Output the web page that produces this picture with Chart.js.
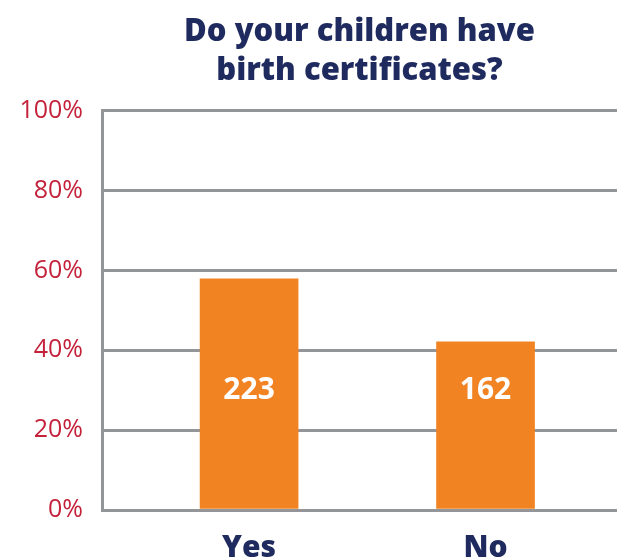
<!DOCTYPE html>
<html>
<head>
<meta charset="utf-8">
<script src="https://cdn.jsdelivr.net/npm/chart.js@4/dist/chart.umd.min.js"></script>
<style>
    html, body { margin: 0; padding: 0; background: #fff; overflow: hidden; }
    #wrap { width: 617px; height: 558px; }
</style>
</head>
<body>
<div id="wrap"><canvas id="chart"></canvas></div>
<script>
'use strict';

const CATEGORIES = ['Yes', 'No'];
const COUNTS = [223, 162];
const PERCENTS = [57.9, 42.1];
const Y_TICKS = [0, 20, 40, 60, 80, 100];

const NAVY = '#1f2b5e';
const RED = '#c4213b';
const ORANGE = '#f28322';
const GRID = '#939598';
const FONT = '"Open Sans", Inter, sans-serif';

// counts sit at a fixed height inside the bars, like the original
const LABEL_LEVEL = 30;

const countLabels = {
    id: 'countLabels',
    afterDatasetsDraw(chart) {
        let ctx = chart.ctx;
        let y = chart.scales.y.getPixelForValue(LABEL_LEVEL);
        ctx.save();
        ctx.fillStyle = '#fff';
        ctx.font = '700 30px ' + FONT;
        ctx.textAlign = 'center';
        ctx.textBaseline = 'middle';
        chart.getDatasetMeta(0).data.forEach((bar, i) => {
            ctx.fillText(String(COUNTS[i]), bar.x, y);
        });
        ctx.restore();
    }
};

new Chart(document.getElementById('chart'), {
    type: 'bar',
    data: {
        datasets: [{
            data: CATEGORIES.map((c, i) => ({ x: i + 1, y: PERCENTS[i] })),
            backgroundColor: ORANGE,
            barThickness: 98
        }]
    },
    options: {
        responsive: true,
        maintainAspectRatio: false,
        animation: false,
        layout: { padding: 0 },
        plugins: {
            legend: { display: false },
            tooltip: { enabled: false },
            title: {
                display: true,
                fullSize: false,
                text: ['Do your children have', 'birth certificates?'],
                color: NAVY,
                font: { family: FONT, size: 31, weight: '800', lineHeight: 1.27 },
                padding: { top: 12, bottom: 20 }
            }
        },
        scales: {
            x: {
                type: 'linear',
                offset: false,
                min: 0.378,
                max: 2.556,
                grid: { display: false, offset: false },
                border: { display: false },
                afterBuildTicks: scale => { scale.ticks = CATEGORIES.map((c, i) => ({ value: i + 1 })); },
                afterFit: scale => { scale.height = 48; },
                ticks: {
                    padding: 12,
                    color: NAVY,
                    font: { family: FONT, size: 30, weight: '800' },
                    callback: v => CATEGORIES[v - 1]
                }
            },
            y: {
                min: 0,
                max: 100,
                afterBuildTicks: scale => { scale.ticks = Y_TICKS.map(v => ({ value: v })); },
                afterFit: scale => { scale.width = 102; },
                grid: { color: GRID, lineWidth: 3, drawTicks: false },
                border: { display: true, color: GRID, width: 3 },
                ticks: {
                    padding: 19,
                    color: RED,
                    font: { family: FONT, size: 25 },
                    callback: v => v + '%'
                }
            }
        }
    },
    plugins: [countLabels]
});
</script>
</body>
</html>
